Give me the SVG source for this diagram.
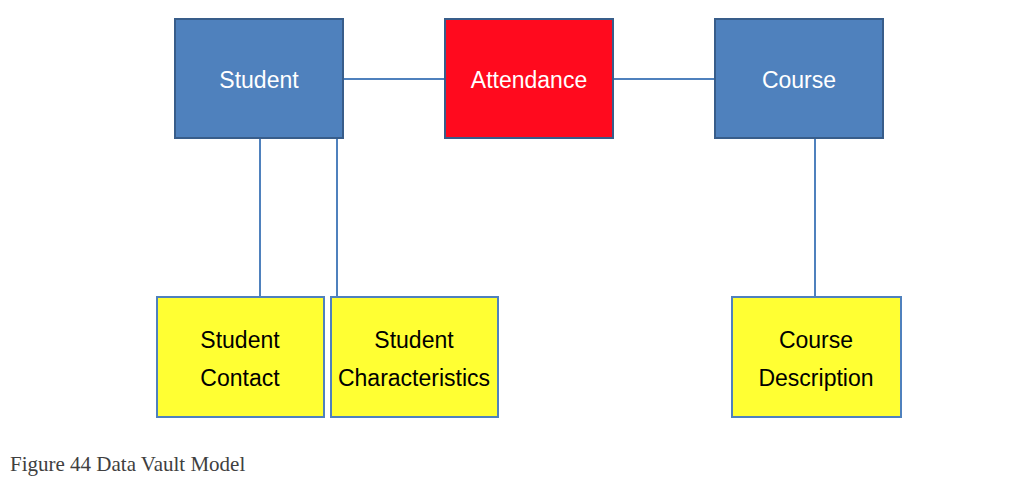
<svg xmlns="http://www.w3.org/2000/svg" width="1036" height="486" viewBox="0 0 1036 486">
<style>
.hub{fill:#4F81BD;stroke:#385D8A;stroke-width:2}
.link{fill:#FF0A1E;stroke:#385D8A;stroke-width:2}
.sat{fill:#FFFF33;stroke:#4F81BD;stroke-width:2}
.lt{font-family:"Liberation Sans",Arial,sans-serif;font-size:23px;fill:#FFFFFF;text-anchor:middle}
.dt{font-family:"Liberation Sans",Arial,sans-serif;font-size:23px;fill:#000000;text-anchor:middle}
.con{stroke:#4F81BD;stroke-width:2;fill:none}
.cap{font-family:"Liberation Serif","Times New Roman",serif;font-size:21px;fill:#404040}
</style>
<rect width="1036" height="486" fill="#FFFFFF"/>
<g id="connectors">
<line class="con" x1="343" y1="79" x2="445" y2="79"/>
<line class="con" x1="613" y1="79" x2="715" y2="79"/>
<line class="con" x1="260" y1="138" x2="260" y2="297"/>
<line class="con" x1="337" y1="138" x2="337" y2="297"/>
<line class="con" x1="815" y1="138" x2="815" y2="297"/>
</g>
<g id="student"><rect class="hub" x="175" y="19" width="168" height="119"/><text class="lt" x="259" y="88">Student</text></g>
<g id="attendance"><rect class="link" x="445" y="19" width="168" height="119"/><text class="lt" x="529" y="88">Attendance</text></g>
<g id="course"><rect class="hub" x="715" y="19" width="168" height="119"/><text class="lt" x="799" y="88">Course</text></g>
<g id="student-contact"><rect class="sat" x="157" y="297" width="167" height="120"/><text class="dt" x="240" y="348">Student</text><text class="dt" x="240" y="386">Contact</text></g>
<g id="student-characteristics"><rect class="sat" x="331" y="297" width="167" height="120"/><text class="dt" x="414" y="348">Student</text><text class="dt" x="414" y="386">Characteristics</text></g>
<g id="course-description"><rect class="sat" x="732" y="297" width="169" height="120"/><text class="dt" x="816" y="348">Course</text><text class="dt" x="816" y="386">Description</text></g>
<text class="cap" x="10" y="471">Figure 44 Data Vault Model</text>
</svg>
